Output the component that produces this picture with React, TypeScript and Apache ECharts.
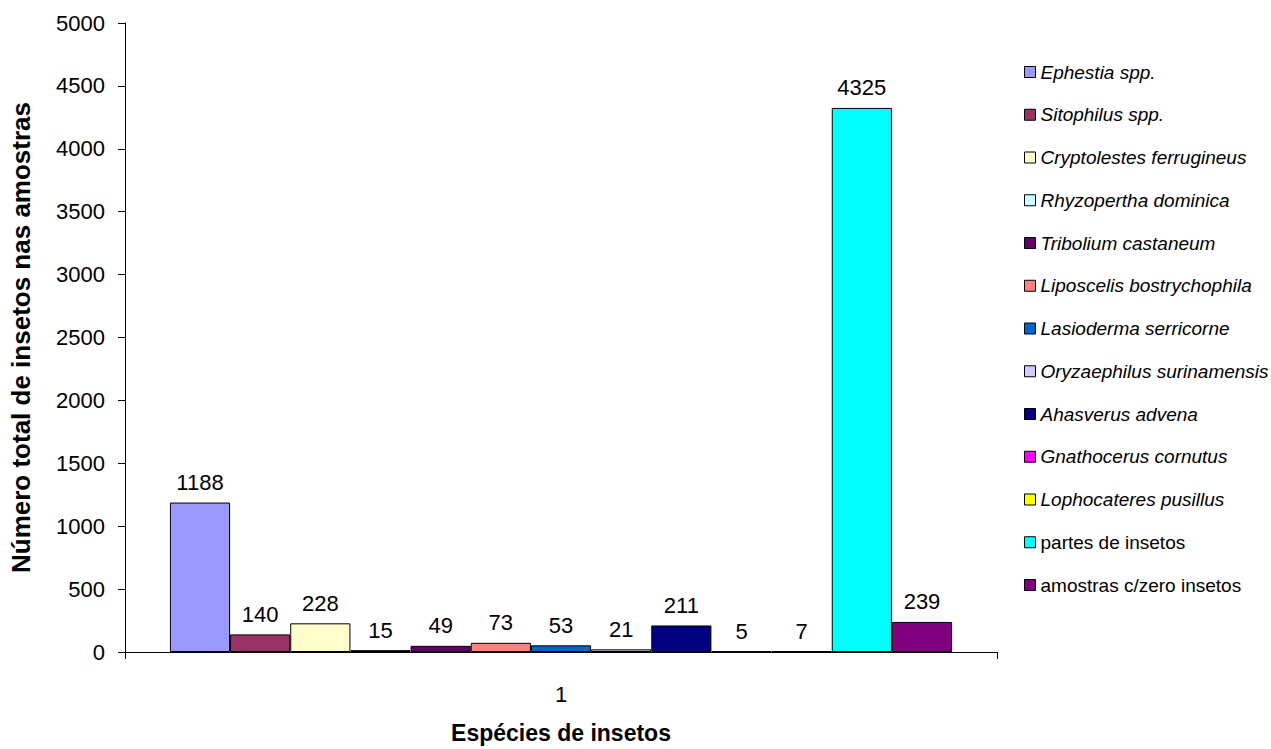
import React, { useEffect, useRef } from "react";
import * as echarts from "echarts";

const categories = ["1"];
const seriesNames = [
  "Ephestia spp.",
  "Sitophilus spp.",
  "Cryptolestes ferrugineus",
  "Rhyzopertha dominica",
  "Tribolium castaneum",
  "Liposcelis bostrychophila",
  "Lasioderma serricorne",
  "Oryzaephilus surinamensis",
  "Ahasverus advena",
  "Gnathocerus cornutus",
  "Lophocateres pusillus",
  "partes de insetos",
  "amostras c/zero insetos",
];
const seriesValues = [1188, 140, 228, 15, 49, 73, 53, 21, 211, 5, 7, 4325, 239];
const italicFlags = [true, true, true, true, true, true, true, true, true, true, true, false, false];
const colors = [
  "#9999FF", "#993366", "#FFFFCC", "#CCFFFF", "#660066", "#FF8080", "#0066CC",
  "#CCCCFF", "#000080", "#FF00FF", "#FFFF00", "#00FFFF", "#800080",
];
const yTicks = { min: 0, max: 5000, interval: 500 };

const FONT = "Liberation Sans, Arial, sans-serif";

export default function App() {
  const ref = useRef<HTMLDivElement>(null);
  useEffect(() => {
    if (!ref.current) return;
    const chart = echarts.init(ref.current, undefined, { renderer: "svg" });
    chart.setOption({
      animation: false,
      textStyle: { fontFamily: FONT },
      grid: { left: 120, right: 274, top: 23, bottom: 87, containLabel: false },
      legend: {
        orient: "vertical",
        left: 1019,
        top: 57,
        itemWidth: 11,
        itemHeight: 11,
        itemGap: 22.75,
        icon: "rect",
        textStyle: { fontSize: 19, lineHeight: 20, color: "#000", fontFamily: FONT },
        data: seriesNames.map((n, i) => ({
          name: n,
          itemStyle: { borderColor: "#000", borderWidth: 1 },
          textStyle: { fontStyle: italicFlags[i] ? "italic" : "normal" },
        })),
      },
      xAxis: {
        type: "category",
        data: categories,
        name: "Espécies de insetos",
        nameLocation: "middle",
        nameGap: 69,
        nameTextStyle: { fontSize: 23, fontWeight: "bold", color: "#000", fontFamily: FONT },
        axisLine: { lineStyle: { color: "#000", width: 1 } },
        axisTick: { show: true, length: 7, lineStyle: { color: "#000" } },
        axisLabel: { fontSize: 22, color: "#000", margin: 31, fontFamily: FONT },
      },
      yAxis: {
        type: "value",
        min: yTicks.min,
        max: yTicks.max,
        interval: yTicks.interval,
        name: "Número total de insetos nas amostras",
        nameLocation: "middle",
        nameGap: 91,
        nameTextStyle: { fontSize: 26, fontWeight: "bold", color: "#000", fontFamily: FONT },
        axisLine: { show: true, lineStyle: { color: "#000", width: 1 } },
        axisTick: { show: true, length: 7, lineStyle: { color: "#000" } },
        axisLabel: {
          fontSize: 22,
          color: "#000",
          margin: 20,
          fontFamily: FONT,
          formatter: (v: number) => String(v),
        },
        splitLine: { show: false },
      },
      series: seriesNames.map((n, i) => ({
        name: n,
        type: "bar",
        data: [seriesValues[i]],
        barGap: "0%",
        barCategoryGap: "10.3%",
        itemStyle: { color: colors[i], borderColor: "#000", borderWidth: 1 },
        label: {
          show: true,
          position: "top",
          distance: 9,
          fontSize: 22,
          color: "#000",
          fontFamily: FONT,
        },
      })),
    });
    return () => chart.dispose();
  }, []);
  return <div ref={ref} style={{ width: 1271, height: 749, position: "absolute", left: 0, top: 0 }} />;
}
